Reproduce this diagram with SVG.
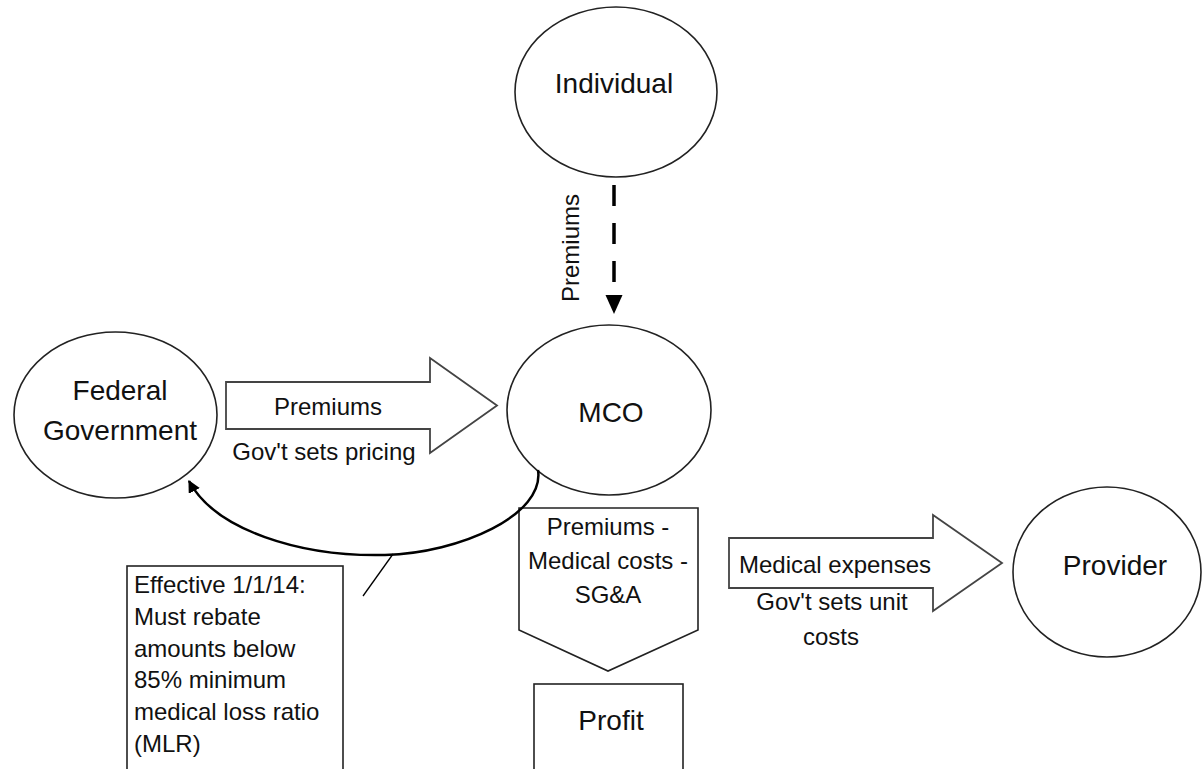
<svg xmlns="http://www.w3.org/2000/svg" width="1202" height="769" viewBox="0 0 1202 769">
<defs>
<style>
.node{fill:#fff;stroke:#222;stroke-width:1.6}
.blk{fill:#fff;stroke:#444;stroke-width:1.8}
.box{fill:#fff;stroke:#222;stroke-width:1.6}
.t{font-family:"Liberation Sans",Arial,sans-serif;fill:#111}
.n{font-size:28px;text-anchor:middle}
.l{font-size:24px}
.c{text-anchor:middle}
</style>
<marker id="ah" viewBox="0 0 10 10" refX="9" refY="5" markerWidth="5" markerHeight="5" orient="auto" markerUnits="strokeWidth">
<path d="M0,0 L10,5 L0,10 z" fill="#000"/>
</marker>
</defs>
<rect width="1202" height="769" fill="#fff"/>

<g id="individual">
<ellipse class="node" cx="616" cy="92" rx="101" ry="85"/>
<text class="t n" x="614" y="93">Individual</text>
</g>

<g id="federal-government">
<ellipse class="node" cx="115.5" cy="415" rx="101.5" ry="83"/>
<text class="t n" x="120" y="400">Federal</text>
<text class="t n" x="120" y="440">Government</text>
</g>

<g id="mco">
<ellipse class="node" cx="609" cy="410" rx="102" ry="85"/>
<text class="t n" x="611" y="422">MCO</text>
</g>

<g id="provider">
<ellipse class="node" cx="1107" cy="572" rx="94" ry="85"/>
<text class="t n" x="1115" y="575">Provider</text>
</g>

<g id="profit-calc">
<path class="box" d="M519,508 L698,508 L698,630 L608,671 L519,630 Z"/>
<text class="t l c" x="608" y="535">Premiums -</text>
<text class="t l c" x="608" y="569">Medical costs -</text>
<text class="t l c" x="608" y="603">SG&amp;A</text>
</g>

<g id="profit">
<rect class="box" x="534" y="684" width="149" height="100"/>
<text class="t c" style="font-size:28px" x="611" y="730">Profit</text>
</g>

<g id="mlr-note">
<rect class="box" x="127" y="566" width="216" height="220"/>
<text class="t l" x="134" y="593">Effective 1/1/14:</text>
<text class="t l" x="134" y="625">Must rebate</text>
<text class="t l" x="134" y="657">amounts below</text>
<text class="t l" x="134" y="688">85% minimum</text>
<text class="t l" x="134" y="720">medical loss ratio</text>
<text class="t l" x="134" y="752">(MLR)</text>
</g>

<g id="connectors">
<g id="fed-to-mco">
<path class="blk" d="M226,382 L430,382 L430,358 L497,405.5 L430,453 L430,429 L226,429 Z"/>
<text class="t l c" x="328" y="415">Premiums</text>
<text class="t l c" x="324" y="460">Gov't sets pricing</text>
</g>
<g id="mco-to-provider">
<path class="blk" d="M729,538 L933,538 L933,515 L1002,563 L933,611 L933,588 L729,588 Z"/>
<text class="t l c" x="835" y="573">Medical expenses</text>
<text class="t l c" x="832" y="610">Gov't sets unit</text>
<text class="t l c" x="831" y="645">costs</text>
</g>
<g id="individual-to-mco">
<line x1="614" y1="185" x2="614" y2="282" stroke="#000" stroke-width="3.5" stroke-dasharray="21 17"/>
<path d="M605.5,295 L622.5,295 L614,314 Z" fill="#000"/>
<text class="t l c" transform="translate(579,248) rotate(-90)" x="0" y="0">Premiums</text>
</g>
<g id="mco-to-fed">
<path d="M538,470 C545,515 460,553 385,555 C300,557 215,530 189,481" fill="none" stroke="#000" stroke-width="2.5" marker-end="url(#ah)"/>
<line x1="393" y1="554" x2="363" y2="596" stroke="#000" stroke-width="1.3"/>
</g>
</g>
</svg>
